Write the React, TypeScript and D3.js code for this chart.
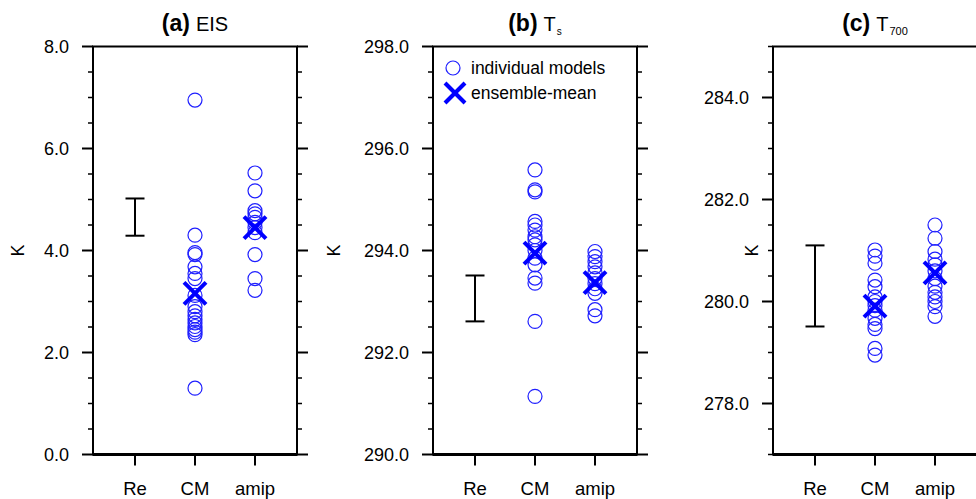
import React from "react";
import * as d3 from "d3";

const categories = ["Re", "CM", "amip"];

// Panel (a) EIS
const eisRe = [4.29, 5.02];
const eisCM = [6.95, 4.30, 3.96, 3.92, 3.68, 3.55, 3.45, 3.12, 2.90, 2.80, 2.72, 2.65, 2.58, 2.51, 2.45, 2.40, 2.35, 1.30];
const eisCMMean = 3.16;
const eisAmip = [5.52, 5.17, 4.78, 4.72, 4.65, 4.55, 4.45, 4.35, 3.92, 3.45, 3.22];
const eisAmipMean = 4.45;

// Panel (b) Ts
const tsRe = [292.61, 293.51];
const tsCM = [295.58, 295.19, 295.15, 294.57, 294.5, 294.4, 294.27, 294.21, 294.11, 294.0, 293.85, 293.72, 293.46, 293.36, 292.61, 291.14];
const tsCMMean = 293.95;
const tsAmip = [293.98, 293.88, 293.78, 293.68, 293.56, 293.45, 293.35, 293.25, 293.16, 292.84, 292.72];
const tsAmipMean = 293.37;

// Panel (c) T700
const t700Re = [279.51, 281.1];
const t700CM = [281.01, 280.89, 280.75, 280.42, 280.29, 280.09, 280.0, 279.92, 279.83, 279.67, 279.55, 279.47, 279.08, 278.95];
const t700CMMean = 279.91;
const t700Amip = [281.5, 281.24, 280.98, 280.83, 280.72, 280.6, 280.45, 280.3, 280.18, 280.09, 280.0, 279.9, 279.71];
const t700AmipMean = 280.56;

const yDomains: [number, number][] = [[0, 8], [290, 298], [277, 285]];
const majorTicks = [
  [0, 2, 4, 6, 8],
  [290, 292, 294, 296, 298],
  [278, 280, 282, 284],
];

const FONT = "'Liberation Sans', Arial, Helvetica, sans-serif";
const BLUE = "#0000ff";
const CIRCLE = "#1f1fff";

type PanelDef = {
  left: number;
  labelBold: string;
  labelMain: string;
  sub?: string;
  re: number[];
  cm: number[];
  cmMean: number;
  amip: number[];
  amipMean: number;
  yLabelX: number;
  legend?: boolean;
};

const panels: PanelDef[] = [
  { left: 93, labelBold: "(a)", labelMain: "EIS", re: eisRe, cm: eisCM, cmMean: eisCMMean, amip: eisAmip, amipMean: eisAmipMean, yLabelX: 18 },
  { left: 433, labelBold: "(b)", labelMain: "T", sub: "s", re: tsRe, cm: tsCM, cmMean: tsCMMean, amip: tsAmip, amipMean: tsAmipMean, yLabelX: 334, legend: true },
  { left: 773, labelBold: "(c)", labelMain: "T", sub: "700", re: t700Re, cm: t700CM, cmMean: t700CMMean, amip: t700Amip, amipMean: t700AmipMean, yLabelX: 752 },
];

const TOP = 46.5;
const BOTTOM = 454.5;
const WIDTH = 204;

function Cross({ x, y, s, w }: { x: number; y: number; s: number; w: number }) {
  return (
    <g stroke={BLUE} strokeWidth={w} strokeLinecap="butt">
      <line x1={x - s} y1={y - s} x2={x + s} y2={y + s} />
      <line x1={x - s} y1={y + s} x2={x + s} y2={y - s} />
    </g>
  );
}

function Panel({ p, idx }: { p: PanelDef; idx: number }) {
  const [d0, d1] = yDomains[idx];
  const y = d3.scaleLinear().domain([d0, d1]).range([BOTTOM, TOP]);
  const x = d3.scaleLinear().domain([0.3, 3.7]).range([p.left, p.left + WIDTH]);
  const right = p.left + WIDTH;
  const majors = majorTicks[idx];
  const minor = d3.range(d0, d1 + 0.001, 0.5).filter((v) => !majors.some((m) => Math.abs(m - v) < 1e-6));
  const fmt = d3.format(".1f");
  const cx = (i: number) => x(i + 1);
  const titleX = p.left + WIDTH / 2;
  return (
    <g>
      {/* title */}
      <text x={titleX} y={31} textAnchor="middle" fontFamily={FONT} fill="#000">
        <tspan fontWeight="bold" fontSize={23}>{p.labelBold}</tspan>
        <tspan fontSize={20} dx={6}>{p.labelMain}</tspan>
        {p.sub && (
          <tspan fontSize={p.sub.length > 1 ? 11 : 10} dy={4} dx={1}>{p.sub}</tspan>
        )}
      </text>
      {/* frame */}
      <rect x={p.left} y={TOP} width={WIDTH} height={BOTTOM - TOP} fill="none" stroke="#000" strokeWidth={2} />
      <line x1={p.left} x2={right} y1={BOTTOM} y2={BOTTOM} stroke="#000" strokeWidth={3} />
      {/* y ticks */}
      {majors.map((v) => (
        <g key={"M" + v}>
          <line x1={p.left - 11} x2={p.left} y1={y(v)} y2={y(v)} stroke="#000" strokeWidth={2} />
          <line x1={right} x2={right + 11} y1={y(v)} y2={y(v)} stroke="#000" strokeWidth={2} />
          <text x={p.left - 24} y={y(v)} dy="0.36em" textAnchor="end" fontFamily={FONT} fontSize={18} fill="#000">
            {fmt(v)}
          </text>
        </g>
      ))}
      {minor.map((v) => (
        <g key={"m" + v}>
          <line x1={p.left - 5} x2={p.left} y1={y(v)} y2={y(v)} stroke="#000" strokeWidth={1.5} />
          <line x1={right} x2={right + 5} y1={y(v)} y2={y(v)} stroke="#000" strokeWidth={1.5} />
        </g>
      ))}
      {/* x ticks */}
      {categories.map((c, i) => (
        <g key={c}>
          <line x1={cx(i)} x2={cx(i)} y1={BOTTOM} y2={BOTTOM + 11} stroke="#000" strokeWidth={2} />
          <text x={cx(i)} y={495} textAnchor="middle" fontFamily={FONT} fontSize={18.5} fill="#000">
            {c}
          </text>
        </g>
      ))}
      {/* y label */}
      <text
        transform={`translate(${p.yLabelX},${(TOP + BOTTOM) / 2}) rotate(-90)`}
        textAnchor="middle"
        dy="0.36em"
        fontFamily={FONT}
        fontSize={18}
        fill="#000"
      >
        K
      </text>
      {/* reanalysis error bar */}
      <g stroke="#000" strokeWidth={2}>
        <line x1={cx(0)} x2={cx(0)} y1={y(p.re[0])} y2={y(p.re[1])} />
        <line x1={cx(0) - 9.5} x2={cx(0) + 9.5} y1={y(p.re[0])} y2={y(p.re[0])} />
        <line x1={cx(0) - 9.5} x2={cx(0) + 9.5} y1={y(p.re[1])} y2={y(p.re[1])} />
      </g>
      {/* model circles */}
      {p.cm.map((v, k) => (
        <circle key={"c" + k} cx={cx(1)} cy={y(v)} r={7} fill="none" stroke={CIRCLE} strokeWidth={1.2} />
      ))}
      {p.amip.map((v, k) => (
        <circle key={"a" + k} cx={cx(2)} cy={y(v)} r={7} fill="none" stroke={CIRCLE} strokeWidth={1.2} />
      ))}
      <Cross x={cx(1)} y={y(p.cmMean)} s={11} w={4} />
      <Cross x={cx(2)} y={y(p.amipMean)} s={11} w={4} />
      {p.legend && (
        <g>
          <circle cx={p.left + 20} cy={68} r={7} fill="none" stroke={CIRCLE} strokeWidth={1.2} />
          <text x={p.left + 38} y={68} dy="0.36em" fontFamily={FONT} fontSize={17.5} fill="#000">
            individual models
          </text>
          <Cross x={p.left + 22} y={93} s={10} w={4} />
          <text x={p.left + 38} y={93} dy="0.36em" fontFamily={FONT} fontSize={17.5} fill="#000">
            ensemble-mean
          </text>
        </g>
      )}
    </g>
  );
}

export default function App() {
  return (
    <svg
      width={976}
      height={499}
      viewBox="0 0 976 499"
      style={{ position: "absolute", left: 0, top: 0, background: "#fff" }}
    >
      <rect x={0} y={0} width={976} height={499} fill="#fff" />
      {panels.map((p, i) => (
        <Panel key={i} p={p} idx={i} />
      ))}
    </svg>
  );
}
